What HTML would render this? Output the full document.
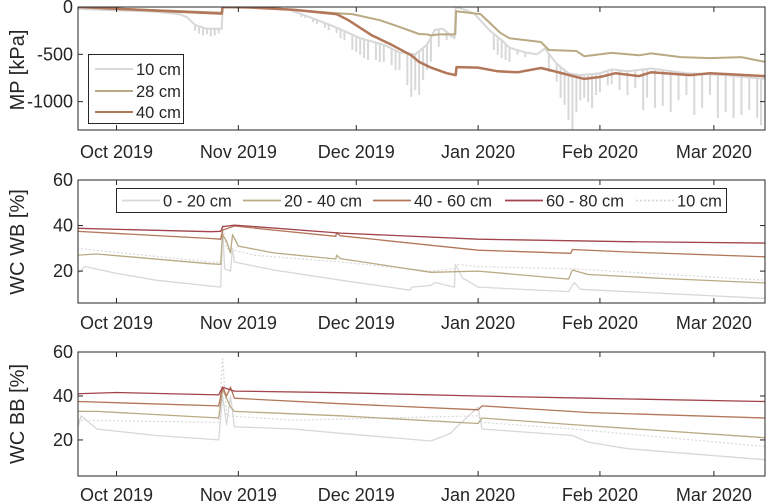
<!DOCTYPE html>
<html><head><meta charset="utf-8">
<style>
body{margin:0;background:#fff;}
svg{display:block;font-family:"Liberation Sans",Arial,sans-serif;}
</style></head>
<body>
<svg id="chart" width="767" height="503" viewBox="0 0 767 503" xmlns="http://www.w3.org/2000/svg"></svg>
<script>
// ---- data (x = days from 1 Oct 2019) ----
const xTickDays = [0, 31, 61, 92, 123, 152];
const xTickLabels = ["Oct 2019", "Nov 2019", "Dec 2019", "Jan 2020", "Feb 2020", "Mar 2020"];

// Panel 1: matric potential (kPa)
const mpTicks = [0, -500, -1000];
const mp10BaseDays = [-10, 10, 16, 18, 20, 23, 26.8, 27, 40, 44, 48, 55, 62, 68, 72, 76, 79, 81, 83, 86, 86.3, 88, 91, 95, 98, 100, 104, 107, 109, 112, 115, 118, 123, 126, 130, 136, 145, 155, 165];
const mp10BaseVals = [-20, -50, -75, -110, -190, -230, -230, 0, -10, -30, -90, -200, -330, -400, -480, -500, -400, -240, -230, -330, 0, -20, -70, -250, -350, -430, -480, -500, -440, -600, -700, -720, -700, -660, -680, -650, -700, -720, -760];
const mp10SpikeDays = [20, 21, 22, 23, 24, 25, 26, 47, 48, 50, 51, 53, 54, 56, 57, 58, 60, 61, 62, 63, 64, 66, 67, 68, 70, 71, 72, 74, 75, 76, 77, 78, 79, 80, 82, 84, 85, 96, 97, 98, 99, 100, 102, 104, 106, 110, 112, 113, 114, 115, 116, 117, 118, 119, 120, 121, 122, 123, 125, 126, 128, 130, 132, 134, 135, 137, 139, 141, 143, 145, 147, 149, 151, 153, 155, 157, 159, 161, 163, 164];
const mp10SpikeVals = [-250, -280, -300, -290, -310, -300, -280, -105, -115, -160, -180, -220, -245, -275, -330, -350, -455, -475, -505, -540, -560, -560, -580, -580, -615, -665, -665, -825, -950, -880, -930, -770, -665, -580, -420, -350, -320, -455, -505, -540, -560, -580, -505, -530, -505, -690, -790, -960, -1035, -1195, -1300, -1110, -985, -960, -1005, -1070, -930, -900, -825, -815, -875, -930, -855, -1090, -960, -1065, -1045, -1110, -985, -930, -1140, -1065, -930, -1175, -1110, -1175, -1140, -1090, -1175, -1250];
const mp28Days = [-10, 26.8, 27, 34, 45, 56, 60, 67, 72, 77, 79, 80, 82, 85, 86.2, 86.4, 92.6, 97.7, 100, 108, 110, 117, 119, 126, 133, 136, 143.6, 151, 159, 165];
const mp28Vals = [0, -60, 0, -5, -30, -65, -75, -140, -210, -285, -290, -300, -290, -290, -290, -45, -75, -275, -330, -370, -455, -465, -520, -485, -510, -490, -530, -540, -530, -580];
const mp40Days = [-10, 26.8, 27, 34, 45, 56, 59, 65, 70, 75, 77, 80, 84, 86.3, 86.5, 92, 97, 102, 108, 110, 119, 123, 127, 133, 136, 146, 151, 156, 165];
const mp40Vals = [0, -70, 0, -5, -30, -75, -140, -300, -400, -510, -580, -640, -700, -720, -635, -640, -680, -690, -645, -665, -760, -740, -700, -730, -690, -720, -700, -710, -730];

// Panel 2: water content WB (%)
const wcTicks = [20, 40, 60];
const wb6080Days = [-10, 24, 26.5, 27, 30, 57, 92, 130, 165];
const wb6080Vals = [38.8, 37.3, 37.5, 39.5, 40.2, 36.7, 34, 32.9, 32.3];
const wb4060Days = [-10, 24, 26.5, 27, 30, 40, 55.8, 56, 57, 92, 115.6, 116, 130, 165];
const wb4060Vals = [37.5, 34.3, 34, 38, 39.8, 38, 35.3, 36.8, 35.5, 29.2, 27.8, 29.5, 28.4, 26.3];
const wb2040Days = [-10, -5, 24, 26.5, 27, 28, 29, 29.5, 31, 40, 55.8, 56, 57, 80, 92, 115, 116, 120, 140, 165];
const wb2040Vals = [27, 27.5, 23.2, 23, 36, 33, 28, 36, 31, 28, 25.3, 27, 25.5, 19.5, 20, 16.5, 20.5, 18.5, 16.7, 14.8];
const wb020Days = [-10, -8, 0, 10, 26.5, 27, 27.5, 29, 29.5, 30, 40, 57, 74.8, 75, 80, 81, 86, 86.2, 88, 92, 115, 116.5, 118, 165];
const wb020Vals = [19, 22, 19, 16, 13, 40, 21, 20, 30, 24, 20.5, 16, 11.6, 13, 13.7, 15, 13, 23, 17, 13, 11, 15, 12, 8];
const wb10Days = [-10, 24, 26.5, 27, 28, 35, 57, 80, 86, 86.2, 92, 116, 165];
const wb10Vals = [30, 24, 24, 40, 30, 27, 24, 20, 21, 23, 22, 21, 16];

// Panel 3: water content BB (%)
const bb6080Days = [-10, 0, 26, 27, 30, 57, 92, 120, 165];
const bb6080Vals = [41, 41.6, 40.5, 44, 42.2, 41.5, 40, 39, 37.5];
const bb4060Days = [-10, 26, 27, 28, 29, 30, 57, 92, 93, 120, 165];
const bb4060Vals = [37.5, 35.5, 44, 40, 44, 39, 36.5, 33.7, 35.5, 32.5, 30];
const bb2040Days = [-10, -5, 26, 27, 29, 30, 57, 92, 93, 116, 165];
const bb2040Vals = [33, 33, 30, 43, 35, 33, 31, 27.5, 30, 27, 21];
const bb020Days = [-10, -9, -5, 10, 26, 27, 28, 29, 30, 45, 57, 80, 85, 86, 92, 93, 116, 120, 130, 165];
const bb020Vals = [25, 31, 25, 22, 20, 40, 27, 40, 26, 25, 23, 19.5, 23, 25, 35, 25, 22, 19, 16, 11];
const bb10Days = [-10, 26, 27, 28, 45, 92, 93, 116, 165];
const bb10Vals = [29, 28, 57, 31, 29, 31, 28, 25, 17];

// ---- drawing ----
const NS = "http://www.w3.org/2000/svg";
const svg = document.getElementById("chart");
const X0 = 78, X1 = 765, D0 = -9.8, D1 = 165;
function xs(d){ return X0 + (d - D0) / (D1 - D0) * (X1 - X0); }
function mk(tag, attrs, parent){
  const e = document.createElementNS(NS, tag);
  for (const k in attrs) e.setAttribute(k, attrs[k]);
  (parent || svg).appendChild(e);
  return e;
}
const C_GRAY = "#d8d8d8", C_TAN = "#b9aa84", C_BROWN = "#b27659", C_RED = "#a2434b";
const FS = 18;

function panel(name, top, bottom, vmin, vmax, ticks, ylabel, labelY, xLabelBase){
  const g = mk("g", {});
  
  
  const ys = v => bottom - (v - vmin) / (vmax - vmin) * (bottom - top);
  const clipId = name + "-clip";
  const cp = mk("clipPath", {id: clipId}, g);
  mk("rect", {x: X0, y: top, width: X1 - X0, height: bottom - top}, cp);
  const plot = mk("g", {"clip-path": "url(#" + clipId + ")"}, g);
  
  
  const ax = mk("g", {stroke: "#262626", "stroke-width": 1, fill: "none"}, g);
  
  
  xTickDays.forEach((d, i) => {
    const x = xs(d);
    mk("line", {x1: x, x2: x, y1: bottom, y2: bottom - 5}, ax);
    mk("line", {x1: x, x2: x, y1: top, y2: top + 5}, ax);
    const t = mk("text", {x: x, y: xLabelBase, "text-anchor": "middle", "font-size": FS, fill: "#262626", stroke: "none"}, g);
    t.textContent = xTickLabels[i];
    
    
  });
  ticks.forEach(v => {
    const y = ys(v);
    mk("line", {x1: X0, x2: X0 + 5, y1: y, y2: y}, ax);
    mk("line", {x1: X1, x2: X1 - 5, y1: y, y2: y}, ax);
    const t = mk("text", {x: X0 - 5, y: y + 6, "text-anchor": "end", "font-size": FS, fill: "#262626", stroke: "none"}, g);
    t.textContent = String(v);
    
    
  });
  mk("rect", {x: X0, y: top, width: X1 - X0, height: bottom - top}, ax);
  const yl = mk("text", {x: 0, y: 0, transform: "translate(24," + labelY + ") rotate(-90)", "text-anchor": "middle", "font-size": 20, fill: "#262626"}, g);
  yl.textContent = ylabel;
  
  
  return {g, plot, ys};
}
function series(p, name, days, vals, color, width, dash){
  const pts = days.map((d, i) => xs(d).toFixed(1) + "," + p.ys(vals[i]).toFixed(1)).join(" ");
  const a = {points: pts, fill: "none", stroke: color, "stroke-width": width, "stroke-linejoin": "round"};
  if (dash) a["stroke-dasharray"] = dash;
  const l = mk("polyline", a, p.plot);
  
  
}
function interp(days, vals, d){
  for (let i = 1; i < days.length; i++) if (d <= days[i]) {
    const t = (d - days[i-1]) / (days[i] - days[i-1]);
    return vals[i-1] + t * (vals[i] - vals[i-1]);
  }
  return vals[vals.length - 1];
}

// Panel 1
const p1 = panel("mp", 7, 130, -1300, 0, mpTicks, "MP [kPa]", 70, 158);
mp10SpikeDays.forEach((d, i) => {
  const x = xs(d);
  const l = mk("line", {x1: x, x2: x, y1: p1.ys(interp(mp10BaseDays, mp10BaseVals, d)), y2: p1.ys(mp10SpikeVals[i]), stroke: C_GRAY, "stroke-width": 2}, p1.plot);
  
  
});
series(p1, "mp-10cm-line", mp10BaseDays, mp10BaseVals, C_GRAY, 2);
series(p1, "mp-28cm-line", mp28Days, mp28Vals, C_TAN, 2);
series(p1, "mp-40cm-line", mp40Days, mp40Vals, C_BROWN, 2.5);

const lg1 = mk("g", {});


mk("rect", {x: 88.5, y: 54.5, width: 95, height: 69, fill: "#fff", stroke: "#262626", "stroke-width": 1}, lg1);
[["10 cm", C_GRAY, 69], ["28 cm", C_TAN, 91], ["40 cm", C_BROWN, 112]].forEach(e => {
  const ent = mk("g", {}, lg1);
  
  
  mk("line", {x1: 95, x2: 133, y1: e[2], y2: e[2], stroke: e[1], "stroke-width": 2}, ent);
  const t = mk("text", {x: 136, y: e[2] + 6, "font-size": 16.5, fill: "#262626"}, ent);
  t.textContent = e[0];
});

// Panel 2
const p2 = panel("wb", 180, 303, 6, 60, wcTicks, "WC WB [%]", 242, 329);
series(p2, "wb-10cm-line", wb10Days, wb10Vals, C_GRAY, 1.2, "2,2");
series(p2, "wb-0-20cm-line", wb020Days, wb020Vals, C_GRAY, 1.3);
series(p2, "wb-20-40cm-line", wb2040Days, wb2040Vals, C_TAN, 1.3);
series(p2, "wb-40-60cm-line", wb4060Days, wb4060Vals, C_BROWN, 1.3);
series(p2, "wb-60-80cm-line", wb6080Days, wb6080Vals, C_RED, 1.3);

const lg2 = mk("g", {});


mk("rect", {x: 116.5, y: 188.5, width: 610, height: 24, fill: "#fff", stroke: "#262626", "stroke-width": 1}, lg2);
[["0 - 20 cm", C_GRAY, 122, null], ["20 - 40 cm", C_TAN, 243, null], ["40 - 60 cm", C_BROWN, 373, null], ["60 - 80 cm", C_RED, 505, null], ["10 cm", C_GRAY, 636, "2,2"]].forEach(e => {
  const ent = mk("g", {}, lg2);
  
  
  const a = {x1: e[2], x2: e[2] + 38, y1: 200.5, y2: 200.5, stroke: e[1], "stroke-width": 1.8};
  if (e[3]) a["stroke-dasharray"] = e[3];
  mk("line", a, ent);
  const t = mk("text", {x: e[2] + 41, y: 206.5, "font-size": 16.5, fill: "#262626"}, ent);
  t.textContent = e[0];
});

// Panel 3
const p3 = panel("bb", 352, 476, 3.6, 60, wcTicks, "WC BB [%]", 414, 501);
series(p3, "bb-10cm-line", bb10Days, bb10Vals, C_GRAY, 1.2, "2,2");
series(p3, "bb-0-20cm-line", bb020Days, bb020Vals, C_GRAY, 1.3);
series(p3, "bb-20-40cm-line", bb2040Days, bb2040Vals, C_TAN, 1.3);
series(p3, "bb-40-60cm-line", bb4060Days, bb4060Vals, C_BROWN, 1.3);
series(p3, "bb-60-80cm-line", bb6080Days, bb6080Vals, C_RED, 1.3);
</script>
</body></html>
